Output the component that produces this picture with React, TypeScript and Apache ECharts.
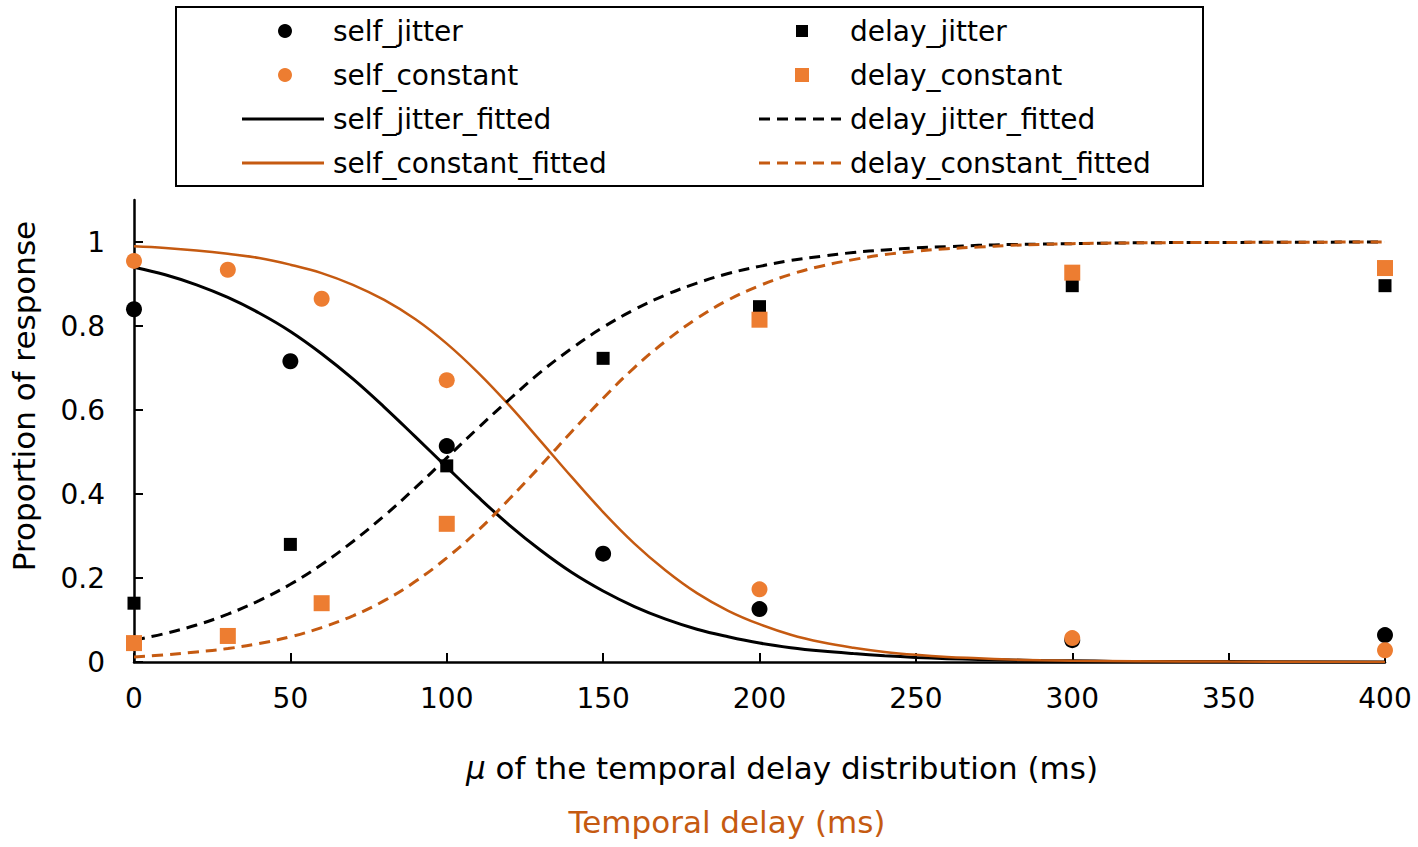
import React, { useEffect, useRef } from "react";
import * as echarts from "echarts";

// Observed data points
const selfJitterX = [0, 50, 100, 150, 200, 300, 400];
const selfJitter = [0.84, 0.716, 0.514, 0.258, 0.126, 0.052, 0.064];
const selfConstantX = [0, 30, 60, 100, 200, 300, 400];
const selfConstant = [0.955, 0.934, 0.865, 0.671, 0.173, 0.057, 0.028];
const delayJitterX = [0, 50, 100, 150, 200, 300, 400];
const delayJitter = [0.14, 0.28, 0.467, 0.723, 0.846, 0.896, 0.896];
const delayConstantX = [0, 30, 60, 100, 200, 300, 400];
const delayConstant = [0.045, 0.062, 0.14, 0.329, 0.815, 0.927, 0.938];

// Fitted curves
const fitX = [0, 10, 20, 30, 40, 50, 60, 70, 80, 90, 100, 110, 120, 130, 140, 150, 160, 170, 180, 190, 200, 210, 220, 230, 240, 250, 260, 270, 280, 290, 300, 320, 350, 400];
const selfJitterFit = [0.94, 0.922, 0.898, 0.868, 0.831, 0.787, 0.734, 0.674, 0.607, 0.536, 0.464, 0.393, 0.326, 0.266, 0.213, 0.169, 0.132, 0.102, 0.078, 0.06, 0.045, 0.034, 0.026, 0.02, 0.015, 0.011, 0.008, 0.006, 0.005, 0.003, 0.003, 0.001, 0.001, 0.0];
const selfConstantFit = [0.99, 0.986, 0.98, 0.972, 0.962, 0.946, 0.926, 0.898, 0.862, 0.816, 0.758, 0.689, 0.611, 0.526, 0.44, 0.357, 0.282, 0.218, 0.164, 0.122, 0.09, 0.065, 0.047, 0.034, 0.024, 0.017, 0.012, 0.009, 0.006, 0.004, 0.003, 0.002, 0.001, 0.0];
const delayJitterFit = [0.052, 0.068, 0.088, 0.114, 0.146, 0.185, 0.232, 0.287, 0.348, 0.415, 0.486, 0.557, 0.625, 0.69, 0.747, 0.797, 0.839, 0.874, 0.902, 0.925, 0.942, 0.956, 0.966, 0.975, 0.981, 0.986, 0.989, 0.992, 0.994, 0.995, 0.996, 0.998, 0.999, 1.0];
const delayConstantFit = [0.012, 0.017, 0.024, 0.032, 0.044, 0.06, 0.082, 0.11, 0.146, 0.192, 0.248, 0.313, 0.388, 0.467, 0.549, 0.628, 0.701, 0.764, 0.818, 0.862, 0.896, 0.923, 0.943, 0.958, 0.97, 0.978, 0.984, 0.988, 0.992, 0.994, 0.996, 0.998, 0.999, 1.0];

const yTicks = [0, 0.2, 0.4, 0.6, 0.8, 1];

const BLACK = "#000000";
const ORANGE = "#ED7D31";
const DARK_ORANGE = "#C55A11";
const FONT = "DejaVu Sans";
const FS = 28;
const TITLE_FS = 31;

const pairs = (xs: number[], ys: number[]) => xs.map((x, i) => [x, ys[i]]);

export default function App() {
  const ref = useRef<HTMLDivElement>(null);

  useEffect(() => {
    document.body.style.margin = "0";
    if (!ref.current) return;
    const chart = echarts.init(ref.current, undefined, { renderer: "svg" });

    const lineSeries = (name: string, ys: number[], color: string, dashed: boolean, width: number) => ({
      name,
      type: "line",
      data: pairs(fitX, ys),
      showSymbol: false,
      symbol: "none",
      smooth: 0.4,
      lineStyle: { color, width, type: dashed ? [11, 7] : "solid" },
      z: 2,
    });

    const scatter = (name: string, xs: number[], ys: number[], color: string, symbol: string, size: number, z: number) => ({
      name,
      type: "scatter",
      data: pairs(xs, ys),
      symbol,
      symbolSize: size,
      itemStyle: { color, opacity: 1 },
      z,
    });

    const textStyle = { fontSize: FS, fontFamily: FONT, fill: BLACK, verticalAlign: "middle", align: "left" };
    const titleStyle = { ...textStyle, fontSize: TITLE_FS, align: "center" };

    const col1X = 333;
    const col2X = 850;
    const rows = [31, 75, 119, 163];

    chart.setOption({
      animation: false,
      backgroundColor: "#ffffff",
      grid: { left: 134, right: 33, top: 200, bottom: 185, containLabel: false },
      xAxis: {
        type: "value",
        min: 0,
        max: 400,
        interval: 50,
        axisLine: { show: true, lineStyle: { color: BLACK, width: 2.5 } },
        axisTick: { show: true, inside: true, length: 9, lineStyle: { color: BLACK, width: 2 } },
        axisLabel: { fontSize: FS, fontFamily: FONT, color: BLACK, margin: 22 },
        splitLine: { show: false },
      },
      yAxis: {
        type: "value",
        min: 0,
        max: 1.1,
        interval: 0.2,
        axisLine: { show: true, onZero: false, lineStyle: { color: BLACK, width: 2.5 } },
        axisTick: { show: true, inside: true, length: 9, lineStyle: { color: BLACK, width: 2 }, customValues: yTicks },
        axisLabel: { fontSize: FS, fontFamily: FONT, color: BLACK, margin: 29, customValues: yTicks },
        splitLine: { show: false },
      },
      series: [
        lineSeries("self_jitter_fitted", selfJitterFit, BLACK, false, 3),
        lineSeries("self_constant_fitted", selfConstantFit, DARK_ORANGE, false, 2.5),
        lineSeries("delay_jitter_fitted", delayJitterFit, BLACK, true, 3),
        lineSeries("delay_constant_fitted", delayConstantFit, DARK_ORANGE, true, 3),
        scatter("delay_jitter", delayJitterX, delayJitter, BLACK, "rect", 13, 3),
        scatter("self_jitter", selfJitterX, selfJitter, BLACK, "circle", 16, 3),
        scatter("delay_constant", delayConstantX, delayConstant, ORANGE, "rect", 16, 4),
        scatter("self_constant", selfConstantX, selfConstant, ORANGE, "circle", 16, 4),
      ],
      graphic: [
        // legend box
        { type: "rect", shape: { x: 176, y: 7, width: 1027, height: 179 }, style: { fill: "#ffffff", stroke: BLACK, lineWidth: 2 }, z: 10 },
        // row 1
        { type: "circle", shape: { cx: 285, cy: rows[0], r: 7 }, style: { fill: BLACK }, z: 11 },
        { type: "text", x: col1X, y: rows[0], style: { ...textStyle, text: "self_jitter" }, z: 11 },
        { type: "rect", shape: { x: 796, y: rows[0] - 6, width: 12, height: 12 }, style: { fill: BLACK }, z: 11 },
        { type: "text", x: col2X, y: rows[0], style: { ...textStyle, text: "delay_jitter" }, z: 11 },
        // row 2
        { type: "circle", shape: { cx: 285, cy: rows[1], r: 7 }, style: { fill: ORANGE }, z: 11 },
        { type: "text", x: col1X, y: rows[1], style: { ...textStyle, text: "self_constant" }, z: 11 },
        { type: "rect", shape: { x: 795, y: rows[1] - 7, width: 14, height: 14 }, style: { fill: ORANGE }, z: 11 },
        { type: "text", x: col2X, y: rows[1], style: { ...textStyle, text: "delay_constant" }, z: 11 },
        // row 3
        { type: "line", shape: { x1: 242, y1: rows[2], x2: 324, y2: rows[2] }, style: { stroke: BLACK, lineWidth: 3 }, z: 11 },
        { type: "text", x: col1X, y: rows[2], style: { ...textStyle, text: "self_jitter_fitted" }, z: 11 },
        { type: "line", shape: { x1: 759, y1: rows[2], x2: 841, y2: rows[2] }, style: { stroke: BLACK, lineWidth: 3, lineDash: [11, 7] }, z: 11 },
        { type: "text", x: col2X, y: rows[2], style: { ...textStyle, text: "delay_jitter_fitted" }, z: 11 },
        // row 4
        { type: "line", shape: { x1: 242, y1: rows[3], x2: 324, y2: rows[3] }, style: { stroke: DARK_ORANGE, lineWidth: 3 }, z: 11 },
        { type: "text", x: col1X, y: rows[3], style: { ...textStyle, text: "self_constant_fitted" }, z: 11 },
        { type: "line", shape: { x1: 759, y1: rows[3], x2: 841, y2: rows[3] }, style: { stroke: DARK_ORANGE, lineWidth: 3, lineDash: [11, 7] }, z: 11 },
        { type: "text", x: col2X, y: rows[3], style: { ...textStyle, text: "delay_constant_fitted" }, z: 11 },
        // axis titles
        {
          type: "text",
          x: 24,
          y: 396,
          rotation: Math.PI / 2,
          style: { ...titleStyle, text: "Proportion of response" },
          z: 11,
        },
        {
          type: "text",
          x: 782,
          y: 768,
          style: {
            ...titleStyle,
            text: "{i|μ} of the temporal delay distribution (ms)",
            rich: { i: { fontSize: TITLE_FS, fontFamily: FONT, fontStyle: "italic", fill: BLACK } },
          },
          z: 11,
        },
        {
          type: "text",
          x: 727,
          y: 822,
          style: { ...titleStyle, fill: DARK_ORANGE, text: "Temporal delay (ms)" },
          z: 11,
        },
      ],
    });

    return () => {
      chart.dispose();
    };
  }, []);

  return <div ref={ref} style={{ width: 1418, height: 847 }} />;
}
